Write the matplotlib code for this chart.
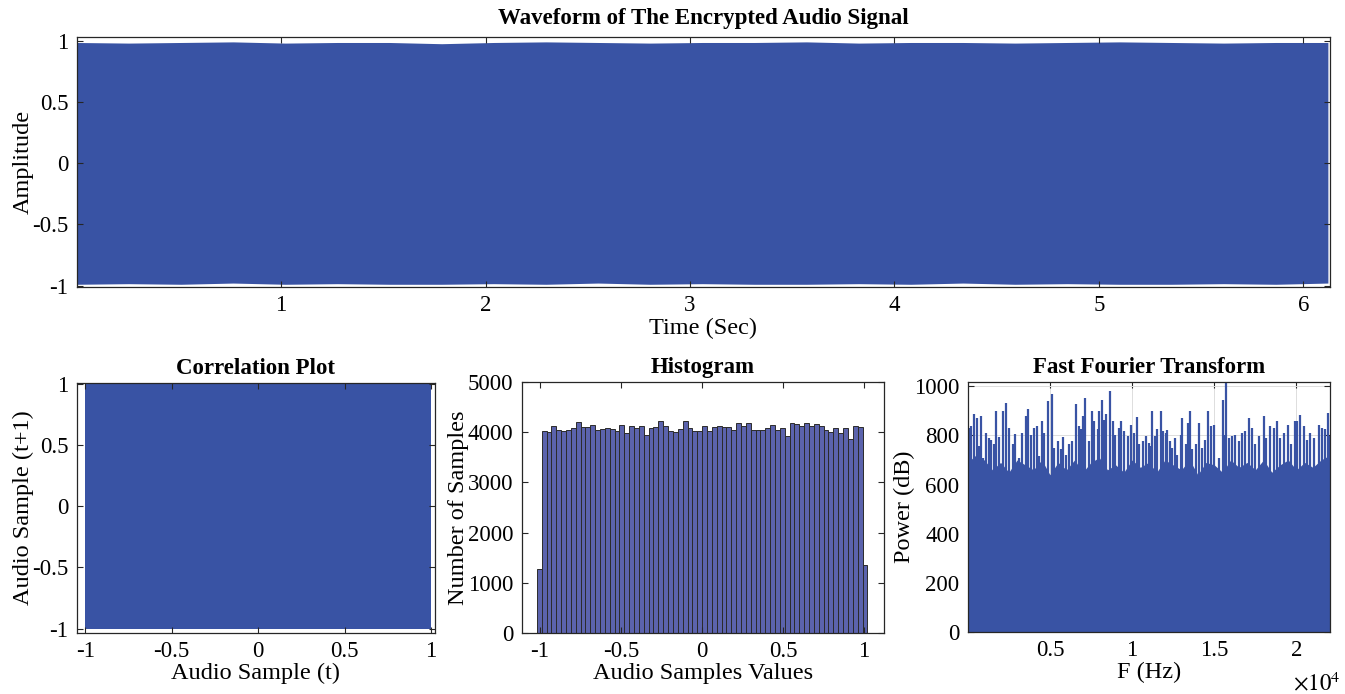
import matplotlib.pyplot as plt
import numpy as np

plt.rcParams["font.family"] = ["Liberation Serif", "DejaVu Serif"]
plt.rcParams["mathtext.fontset"] = "stix"

BLUE = "#3953a4"
BAR = "#5b63ad"

# waveform envelope (amplitude)
wave_upper = [0.99, 0.985, 0.99, 0.995, 0.985, 0.99, 0.99, 0.98, 0.99, 0.995,
              0.99, 0.985, 0.99, 0.99, 0.995, 0.985, 0.99, 0.99, 0.985, 0.99,
              0.995, 0.99, 0.985, 0.99, 0.99]
wave_lower = [-0.99, -0.985, -0.99, -0.98, -0.99, -0.985, -0.99, -0.99, -0.985, -0.99,
              -0.98, -0.99, -0.985, -0.99, -0.99, -0.985, -0.99, -0.98, -0.99, -0.985,
              -0.99, -0.99, -0.985, -0.99, -0.98]
wave_end = 6.12

# correlation scatter extent (x(t) vs x(t+1))
corr_x = [-1.0, 1.0]
corr_lo = [-1.0, -1.0]
corr_hi = [1.0, 1.0]

# histogram: 68 bins of width 0.03 from -1.02 to 1.02
hist_edges_lim = (-1.02, 1.02)
hist_counts = [1280,
               4017, 3997, 4131, 4037, 4017, 4051, 4078, 4198, 4098, 4111,
               4138, 4051, 4057, 4084, 4064, 4031, 4144, 3977, 4118, 4078,
               4118, 3944, 4084, 4111, 4218, 4131, 4031, 3997, 4071, 4231,
               4078, 4031, 4031, 4131, 4031, 4098, 4118, 4098, 4098, 4044,
               4184, 4131, 4178, 4051, 4051, 4051, 4078, 4151, 4051, 4084,
               3930, 4184, 4164, 4118, 4178, 4118, 4158, 4118, 4044, 3997,
               4078, 3984, 4084, 3864, 4118, 4098,
               1360]

# FFT: dense body level (every 500 Hz) and the tallest spikes
fft_body_f = [0, 500, 1000, 1500, 2000, 2500, 3000, 3500, 4000, 4500, 5000, 5500,
              6000, 6500, 7000, 7500, 8000, 8500, 9000, 9500, 10000, 10500, 11000,
              11500, 12000, 12500, 13000, 13500, 14000, 14500, 15000, 15500, 16000,
              16500, 17000, 17500, 18000, 18500, 19000, 19500, 20000, 20500, 21000,
              21500, 22050]
fft_body_p = [690, 720, 700, 660, 690, 650, 700, 680, 660, 700, 640, 690,
              660, 700, 650, 690, 710, 660, 680, 650, 700, 670, 690,
              650, 700, 680, 660, 700, 640, 690, 680, 650, 700,
              670, 690, 660, 700, 650, 680, 700, 660, 690, 670,
              700, 720]
fft_peak_f = [93, 195, 397, 540, 702, 803, 904, 1107, 1310, 1412, 1614, 1716, 1918, 2121,
              2324, 2527, 2730, 2892, 3135, 3298, 3541, 3683, 3845, 4048, 4210, 4352,
              4514, 4656, 4859, 5123, 5265, 5468, 5670, 5812, 5975, 6177, 6340, 6583,
              6745, 6887, 7029, 7151, 7394, 7556, 7698, 7901, 8002, 8165, 8307, 8408,
              8651, 8813, 8976, 9179, 9321, 9524, 9726, 9929, 10132, 10274, 10436,
              10639, 10842, 11004, 11123, 11225, 11387, 11529, 11732, 11874, 12036,
              12137, 12279, 12442, 12604, 12746, 12949, 13050, 13253, 13415, 13496,
              13658, 13861, 14064, 14267, 14429, 14632, 14774, 14977, 15281, 15524,
              15646, 15747, 15889, 16092, 16254, 16498, 16700, 16862, 17106, 17309,
              17471, 17714, 18018, 18160, 18424, 18627, 18830, 19033, 19235, 19499,
              19702, 19905, 20047, 20249, 20452, 20655, 20858, 21060, 21405, 21567,
              21730, 21912, 22000]
fft_peak_p = [830, 837, 887, 871, 756, 878, 709, 810, 790, 783, 763, 901, 793, 898,
              932, 830, 763, 806, 709, 810, 878, 909, 803, 830, 837, 716,
              858, 810, 939, 968, 749, 776, 743, 793, 722, 763, 776, 928,
              837, 824, 878, 952, 776, 898, 858, 824, 898, 945, 864, 885,
              979, 858, 803, 830, 858, 817, 797, 844, 810, 874, 763,
              776, 797, 770, 756, 898, 797, 824, 898, 817, 810,
              820, 776, 749, 790, 722, 803, 871, 763, 851, 898,
              743, 763, 851, 749, 783, 898, 837, 844, 709, 945,
              803, 1020, 790, 797, 803, 776, 810, 817, 871, 830,
              763, 797, 878, 790, 837, 830, 858, 790, 810, 844,
              763, 858, 858, 882, 837, 783, 810, 790, 844, 830,
              824, 891, 797]

TICK_FS = 16.5
LABEL_FS = 17.5
TITLE_FS = 16.5


def _style(ax):
    ax.tick_params(direction="in", top=True, right=True, length=4, width=0.8,
                   labelsize=TICK_FS, color="#262626", pad=6)
    for sp in ax.spines.values():
        sp.set_color("#262626")
        sp.set_linewidth(0.9)


fig = plt.figure(figsize=(13.45, 6.94), dpi=100)

# waveform
ax1 = fig.add_axes([0.057, 0.5865, 0.9318, 0.3602])
t = np.linspace(0, wave_end, len(wave_upper))
ax1.fill_between(t, wave_lower, wave_upper, color=BLUE, lw=0)
ax1.set_xlim(0, 6.13)
ax1.set_ylim(-1.012, 1.035)
ax1.set_xticks([1, 2, 3, 4, 5, 6])
ax1.set_yticks([-1, -0.5, 0, 0.5, 1])
ax1.set_yticklabels(["-1", "-0.5", "0", "0.5", "1"])
ax1.set_xlabel("Time (Sec)", fontsize=LABEL_FS, labelpad=1)
ax1.set_ylabel("Amplitude", fontsize=LABEL_FS, labelpad=-1)
ax1.set_title("Waveform of The Encrypted Audio Signal", fontsize=TITLE_FS,
              fontweight="bold", pad=9.5)
_style(ax1)

# correlation
ax2 = fig.add_axes([0.0572, 0.0879, 0.2662, 0.3602])
ax2.fill_between(corr_x, corr_lo, corr_hi, color=BLUE, lw=0)
ax2.set_xlim(-1.048, 1.023)
ax2.set_ylim(-1.035, 1.005)
ax2.set_xticks([-1, -0.5, 0, 0.5, 1])
ax2.set_xticklabels(["-1", "-0.5", "0", "0.5", "1"])
ax2.set_yticks([-1, -0.5, 0, 0.5, 1])
ax2.set_yticklabels(["-1", "-0.5", "0", "0.5", "1"])
ax2.set_xlabel("Audio Sample (t)", fontsize=LABEL_FS, labelpad=0.5)
ax2.set_ylabel("Audio Sample (t+1)", fontsize=LABEL_FS, labelpad=-1)
ax2.set_title("Correlation Plot", fontsize=TITLE_FS, fontweight="bold", pad=6.5)
_style(ax2)

# histogram
ax3 = fig.add_axes([0.3879, 0.0879, 0.2694, 0.3617])
edges = np.linspace(hist_edges_lim[0], hist_edges_lim[1], len(hist_counts) + 1)
ax3.bar(edges[:-1], hist_counts, width=np.diff(edges), align="edge",
        color=BAR, edgecolor="#2b2b2b", linewidth=0.7)
ax3.set_xlim(-1.113, 1.123)
ax3.set_ylim(0, 5000)
ax3.set_xticks([-1, -0.5, 0, 0.5, 1])
ax3.set_xticklabels(["-1", "-0.5", "0", "0.5", "1"])
ax3.set_yticks([0, 1000, 2000, 3000, 4000, 5000])
ax3.set_xlabel("Audio Samples Values", fontsize=LABEL_FS, labelpad=0.5)
ax3.set_ylabel("Number of Samples", fontsize=LABEL_FS, labelpad=-1)
ax3.set_title("Histogram", fontsize=TITLE_FS, fontweight="bold", pad=6.5)
_style(ax3)

# FFT
ax4 = fig.add_axes([0.7195, 0.0893, 0.2694, 0.3602])
ax4.set_axisbelow(True)
ax4.grid(True, color="#dddddd", linewidth=0.7)
ax4.fill_between(fft_body_f, 0, fft_body_p, color=BLUE, lw=0)
ax4.vlines(fft_peak_f, 0, fft_peak_p, color=BLUE, linewidth=1.6)
ax4.set_xlim(0, 22050)
ax4.set_ylim(0, 1017)
ax4.set_xticks([5000, 10000, 15000, 20000])
ax4.set_xticklabels(["0.5", "1", "1.5", "2"])
ax4.set_yticks([0, 200, 400, 600, 800, 1000])
ax4.set_xlabel("F (Hz)", fontsize=LABEL_FS, labelpad=0.5)
ax4.set_ylabel("Power (dB)", fontsize=LABEL_FS, labelpad=-1)
ax4.set_title("Fast Fourier Transform", fontsize=TITLE_FS, fontweight="bold", pad=6.5)
ax4.text(1.03, -0.205, r"$\times 10^{4}$", transform=ax4.transAxes,
         ha="right", va="center", fontsize=TICK_FS)
_style(ax4)

fig.savefig("out.png", dpi=100)
